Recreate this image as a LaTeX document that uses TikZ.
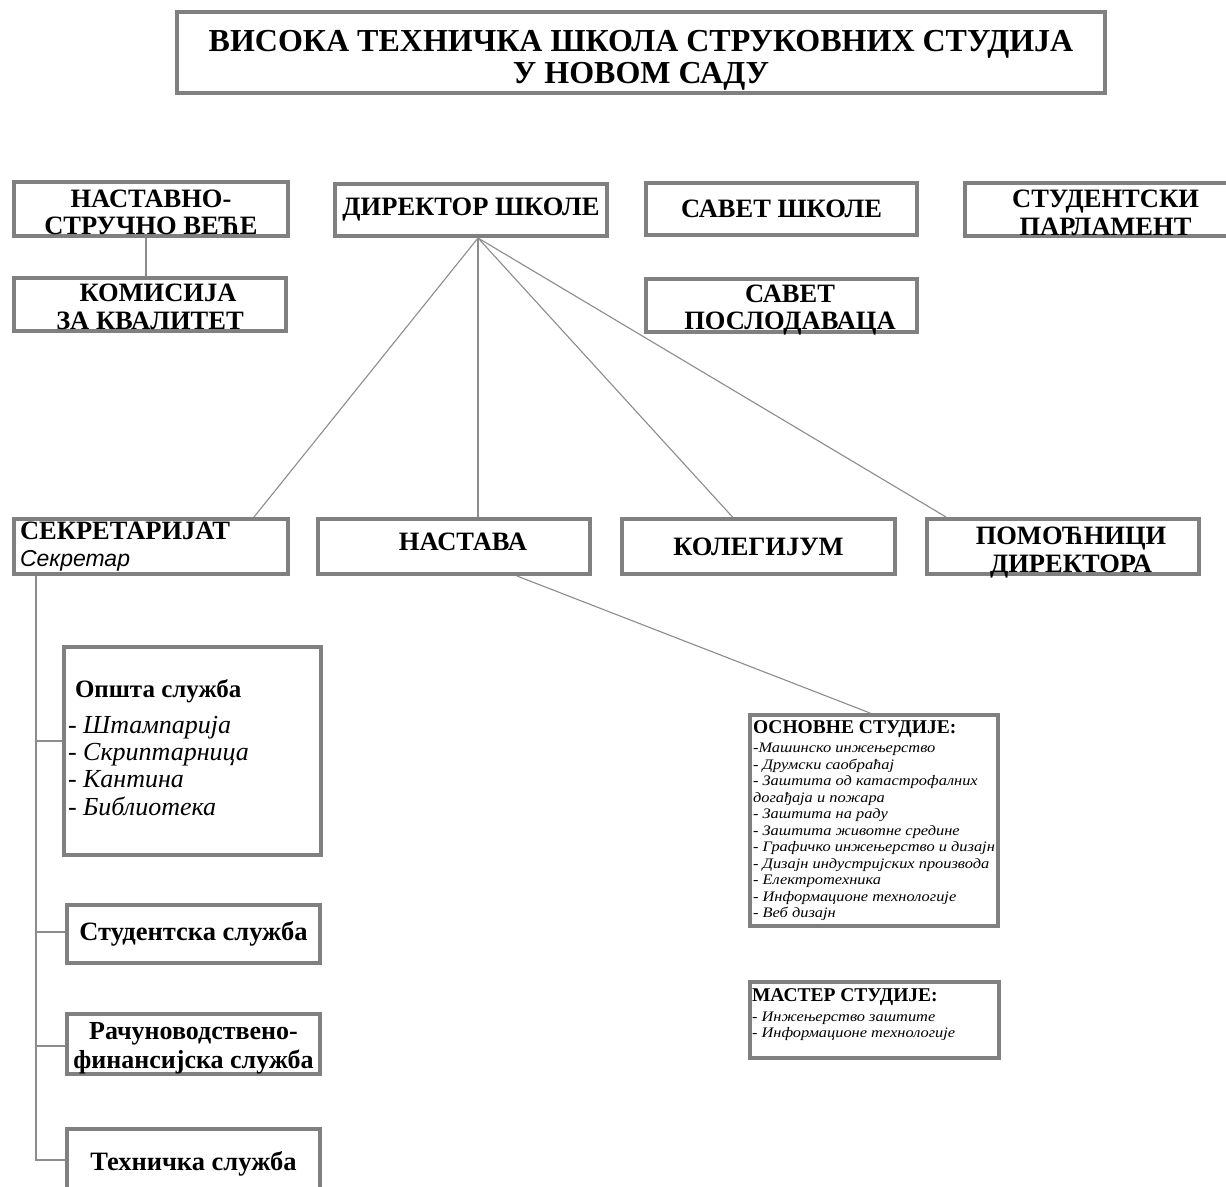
\documentclass[tikz,border=0pt]{standalone}
\usepackage{fontspec}
\setmainfont{Liberation Serif}
\setsansfont{Liberation Sans}
\newfontfamily\listfont{Liberation Serif}[FakeStretch=1.13]

\definecolor{frame}{RGB}{128,128,128}
\definecolor{wire}{RGB}{140,140,140}

\tikzset{
  unit/.style={draw=frame, line width=4pt, rectangle, inner sep=0pt, align=center,
    font=\bfseries\fontsize{26.5}{27.5}\selectfont},
  caption/.style={inner sep=0pt, align=center, font=\bfseries\fontsize{26.5}{27.5}\selectfont},
  studies/.style={unit, align=flush left, inner xsep=2,
    font=\listfont\itshape\fontsize{14.5}{16.5}\selectfont},
  link/.style={draw=wire, line width=1.1pt},
}
\newcommand{\studyhead}[1]{{\rmfamily\upshape\bfseries\fontsize{19.5}{21}\selectfont #1}}
\newcommand{\toplift}[1]{\rule{0pt}{#1}}
\newcommand{\botdrop}[1]{\rule[-#1]{0pt}{0pt}}

\begin{document}
\begin{tikzpicture}[x=1pt,y=-1pt]
\useasboundingbox[fill=white] (0,0) rectangle (1226,1186);

% top title
\node[unit, minimum width=928, minimum height=81, font=\bfseries\fontsize{32}{32}\selectfont] (title) at (641,52.5)
  {\toplift{36pt}ВИСОКА ТЕХНИЧКА ШКОЛА СТРУКОВНИХ СТУДИЈА\\У НОВОМ САДУ};

% first row
\node[unit, minimum width=274, minimum height=54] (vece) at (151,209) {\toplift{24pt}НАСТАВНО-\\СТРУЧНО ВЕЋЕ};
\node[unit, minimum width=272, minimum height=53] (komisija) at (150,304.5) {\hspace*{16pt}\toplift{22pt}КОМИСИЈА\\ЗА КВАЛИТЕТ};
\node[unit, minimum width=272, minimum height=52] (direktor) at (471,210) {ДИРЕКТОР ШКОЛЕ};
\node[unit, minimum width=271, minimum height=52] (savet) at (781.5,209) {САВЕТ ШКОЛЕ};
\node[unit, minimum width=271, minimum height=53] (poslodavci) at (781.5,305.5) {};
\node[caption] (poslodavcitxt) at ([xshift=8.5,yshift=-4.5]poslodavci.center) {САВЕТ\\ПОСЛОДАВАЦА};
\node[unit, minimum width=273, minimum height=53] (parlament) at (1101.5,209.5) {\hspace*{8pt}\toplift{24pt}СТУДЕНТСКИ\\\hspace*{8pt}ПАРЛАМЕНТ};

% second row
\node[unit, minimum width=274, minimum height=55, text width=262, inner xsep=6, align=flush left] (sekretarijat) at (151,546.5)
  {СЕКРЕТАРИЈАТ\\{\sffamily\mdseries\itshape\fontsize{23}{26}\selectfont Секретар}};
\node[unit, minimum width=272, minimum height=55] (nastava) at (454,546.5) {\hspace*{18pt}НАСТАВА\botdrop{9pt}};
\node[unit, minimum width=273, minimum height=55] (kolegijum) at (758.5,546.5) {КОЛЕГИЈУМ};
\node[unit, minimum width=272, minimum height=55] (pomocnici) at (1063,546.5) {};
\node[caption] (pomocnicitxt) at ([xshift=8,yshift=-6]pomocnici.center) {ПОМОЋНИЦИ\\ДИРЕКТОРА};

% services
\node[unit, minimum width=257, minimum height=208, text width=249, inner xsep=4, align=flush left,
  font=\fontsize{26}{27.3}\selectfont] (opsta) at (192.5,751)
  {\hspace*{7pt}{\bfseries\fontsize{25}{27.3}\selectfont Општа служба}\\[8pt]
   - \textit{Штампарија}\\- \textit{Скриптарница}\\- \textit{Кантина}\\- \textit{Библиотека}\botdrop{7pt}};
\node[unit, minimum width=253, minimum height=58] (studentska) at (193.5,934) {Студентска служба};
\node[unit, minimum width=253, minimum height=60, font=\bfseries\fontsize{26}{29}\selectfont] (racunovodstvo) at (193.5,1044)
  {\toplift{25pt}Рачуноводствено-\\финансијска служба};
\node[unit, minimum width=253, minimum height=69] (tehnicka) at (193.5,1163.5) {Техничка служба};

% studies
\node[studies, minimum width=248, minimum height=211] (osnovne) at (874,820.5)
  {\studyhead{ОСНОВНЕ СТУДИЈЕ:}\\[3pt]
   -Машинско инжењерство\\
   - Друмски саобраћај\\
   - Заштита од катастрофалних\\
   догађаја и пожара\\
   - Заштита на раду\\
   - Заштита животне средине\\
   - Графичко инжењерство и дизајн\\
   - Дизајн индустријских производа\\
   - Електротехника\\
   - Информационе технологије\\
   - Веб дизајн};
\node[studies, minimum width=249, minimum height=76, text width=245] (master) at (874.5,1020)
  {\studyhead{МАСТЕР СТУДИЈЕ:}\\[3pt]
   - Инжењерство заштите\\
   - Информационе технологије\botdrop{13pt}};

% connectors
\draw[link] ([xshift=-5]vece.south) -- ([xshift=-4]komisija.north);
\coordinate (hub) at ([xshift=7]direktor.south);
\draw[link] (hub) -- ([xshift=103]sekretarijat.north);
\draw[link] (hub) -- ([xshift=24]nastava.north);
\draw[link] (hub) -- ([xshift=-26]kolegijum.north);
\draw[link] (hub) -- ([xshift=-117]pomocnici.north);
\draw[link] ([xshift=63]nastava.south) -- ([xshift=-4]osnovne.north);
\coordinate (spine) at ([xshift=-115]sekretarijat.south);
\draw[link] (spine) |- ([yshift=10]opsta.west);
\draw[link] (spine) |- ([yshift=2]studentska.west);
\draw[link] (spine) |- ([yshift=-2]racunovodstvo.west);
\draw[link] (spine) |- ([yshift=3.5]tehnicka.west);
\end{tikzpicture}
\end{document}
